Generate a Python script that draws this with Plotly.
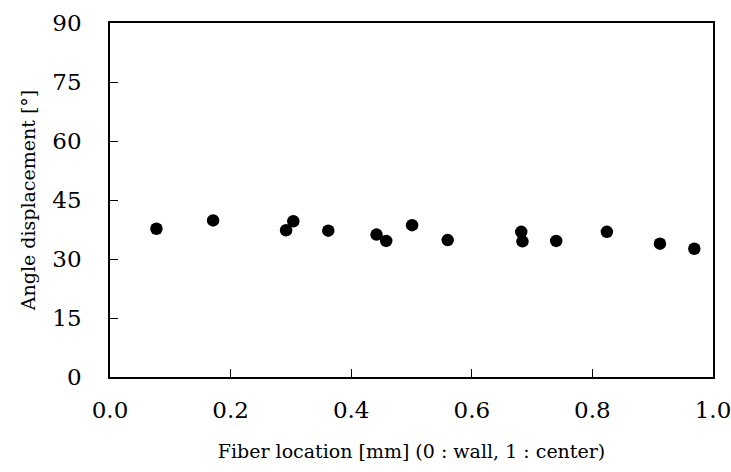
import plotly.graph_objects as go

# Fiber position (0 = wall, 1 = center) and measured angle displacement
fiber_location = [0.077, 0.171, 0.292, 0.304, 0.362, 0.442, 0.458, 0.501,
                  0.560, 0.682, 0.684, 0.740, 0.824, 0.912, 0.969]
angle_displacement = [37.7, 39.8, 37.3, 39.6, 37.2, 36.2, 34.6, 38.6,
                      34.8, 36.9, 34.5, 34.6, 36.9, 33.9, 32.6]

x_ticks = [0.0, 0.2, 0.4, 0.6, 0.8, 1.0]
y_ticks = [0, 15, 30, 45, 60, 75, 90]

font_family = "DejaVu Serif"
tick_size = 23
title_size = 19

fig = go.Figure(
    go.Scatter(
        x=fiber_location,
        y=angle_displacement,
        mode="markers",
        marker=dict(color="black", size=12.5),
        showlegend=False,
    )
)

axis_common = dict(
    showgrid=False,
    zeroline=False,
    showline=True,
    linecolor="black",
    linewidth=1.5,
    mirror=True,
    ticks="inside",
    ticklen=8,
    tickwidth=1,
    tickcolor="black",
    tickfont=dict(family=font_family, size=tick_size, color="black"),
    title_font=dict(family=font_family, size=title_size, color="black"),
    ticklabeloverflow="allow",
    automargin=False,
)

fig.update_xaxes(
    range=[0, 1],
    tickvals=x_ticks,
    ticktext=[f"{v:.1f}" for v in x_ticks],
    title_text="Fiber location [mm] (0 : wall, 1 : center)",
    ticklabelstandoff=12,
    title_standoff=22,
    **axis_common,
)
fig.update_yaxes(
    range=[0, 90],
    tickvals=y_ticks,
    title_text="Angle displacement [°]",
    ticklabelstandoff=22,
    title_standoff=12,
    **axis_common,
)

fig.update_layout(
    width=731,
    height=472,
    margin=dict(l=110, r=18, t=23, b=95),
    paper_bgcolor="white",
    plot_bgcolor="white",
    font=dict(family=font_family, size=title_size, color="black"),
)

fig.write_html("out.html")
